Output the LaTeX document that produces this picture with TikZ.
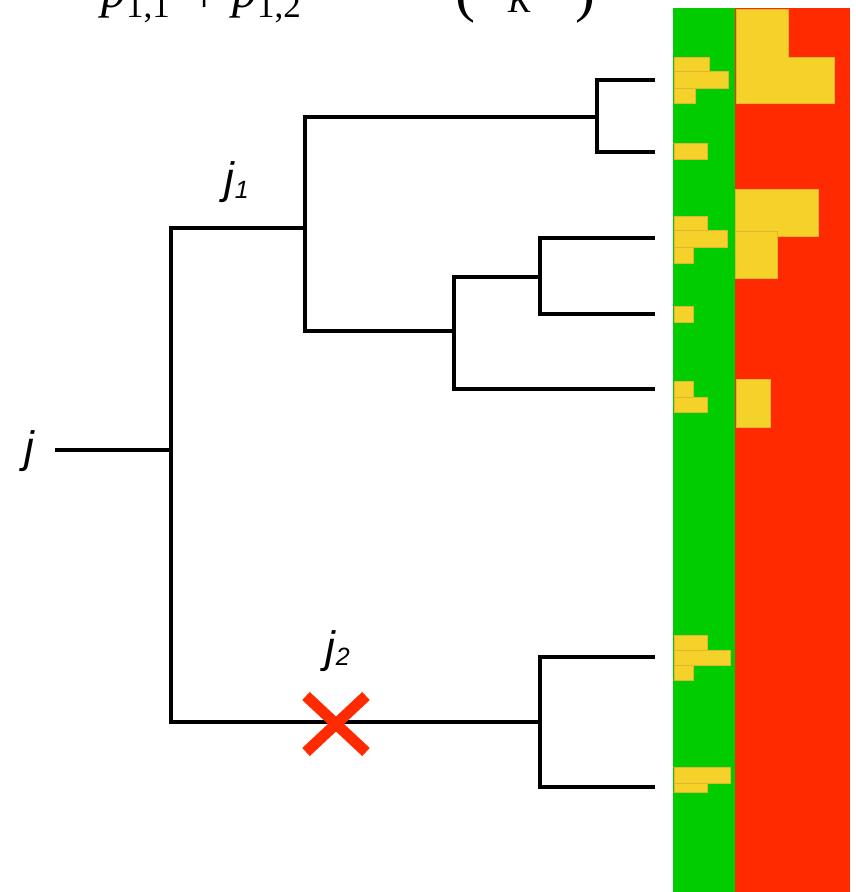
\documentclass[tikz,border=0pt]{standalone}
\usepackage{fontspec}
\newfontfamily\lblfont{Liberation Sans}
\newfontfamily\formfont{Liberation Serif}
\definecolor{barGreen}{HTML}{00CC00}
\definecolor{barRed}{HTML}{FF2A00}
\definecolor{patchYellow}{HTML}{F5D22A}
\definecolor{patchEdge}{HTML}{E2B62C}
\definecolor{crossRed}{HTML}{FF2A00}
\newcommand{\bigsize}{\fontsize{50}{60}\selectfont}
\newcommand{\subsize}{\fontsize{35}{40}\selectfont}
\newcommand{\lowsub}[1]{\raisebox{-10pt}{\upshape\subsize #1}}
\tikzset{
  branch/.style={line width=3.2pt, line join=miter},
  patch/.style={fill=patchYellow, draw=patchEdge, line width=0.6pt},
  lbl/.style={inner sep=0pt, anchor=base west, font=\lblfont\itshape\fontsize{44}{48}\selectfont},
  formula/.style={inner sep=0pt, anchor=base west, font=\formfont},
}
\begin{document}
\begin{tikzpicture}[x=1pt, y=-1pt]
\useasboundingbox (0,0) rectangle (856,892);

% partially visible formula along the top edge
\begin{scope}
\clip (0,0) rectangle (856,892);
\node[formula] (p11) at (101,7) {\bigsize\itshape p\lowsub{1,1}};
\node[formula, anchor=base] (plus) at (205,12) {\bigsize +};
\node[formula] (p12) at (232,7) {\bigsize\itshape p\lowsub{1,2}};
\node[formula] (lpar) at (455,10) {\fontsize{60}{70}\selectfont(};
\node[formula] (kden) at (508,12) {\subsize\itshape K};
\node[formula] (rpar) at (575,10) {\fontsize{60}{70}\selectfont)};
\end{scope}

% colour columns
\fill[barGreen] (673,8) rectangle (735,892);
\fill[barRed] (735,8) rectangle (850,892);

% yellow patches, left column
\draw[patch] (674,57) rectangle (709,71);
\draw[patch] (674,71) rectangle (728,88);
\draw[patch] (674,88) rectangle (695,103);
\draw[patch] (674,143) rectangle (707,159);
\draw[patch] (674,216) rectangle (707,230);
\draw[patch] (674,230) rectangle (727,247);
\draw[patch] (674,247) rectangle (693,263);
\draw[patch] (674,306) rectangle (693,322);
\draw[patch] (674,381) rectangle (693,397);
\draw[patch] (674,397) rectangle (707,412);
\draw[patch] (674,635) rectangle (707,650);
\draw[patch] (674,650) rectangle (730,665);
\draw[patch] (674,665) rectangle (693,680);
\draw[patch] (674,767) rectangle (730,783);
\draw[patch] (674,783) rectangle (707,792);

% yellow patches, right column
\draw[patch] (736,9) -- (788,9) -- (788,57) -- (834,57) -- (834,103) -- (736,103) -- cycle;
\draw[patch] (735,189) rectangle (818,236);
\draw[patch] (735,231) rectangle (777,278);
\draw[patch] (736,379) rectangle (770,427);

% tree: internal joints and leaves
\coordinate (root) at (55,450);
\coordinate (A) at (171,450);
\coordinate (B) at (305,228);
\coordinate (C) at (597,117);
\coordinate (D) at (454,331);
\coordinate (E) at (540,277);
\coordinate (F) at (540,722);
\coordinate (l1) at (655,80);
\coordinate (l2) at (655,152);
\coordinate (l3) at (655,238);
\coordinate (l4) at (655,314);
\coordinate (l5) at (655,389);
\coordinate (l6) at (655,657);
\coordinate (l7) at (655,787);

\draw[branch] (root) -- (A);
\draw[branch] (A) |- (B);
\draw[branch] (A) |- (F);
\draw[branch] (B) |- (C);
\draw[branch] (B) |- (D);
\draw[branch] (C) |- (l1);
\draw[branch] (C) |- (l2);
\draw[branch] (D) |- (E);
\draw[branch] (D) |- (l5);
\draw[branch] (E) |- (l3);
\draw[branch] (E) |- (l4);
\draw[branch] (F) |- (l6);
\draw[branch] (F) |- (l7);

% labels
\node[lbl] (jroot) at (24,462) {j};
\node[lbl] (j1) at (224,193) {j\kern1pt\raisebox{-5pt}{\lblfont\itshape\fontsize{25}{28}\selectfont 1}};
\node[lbl] (j2) at (325,662) {j\kern1pt\raisebox{-3pt}{\lblfont\itshape\fontsize{25}{28}\selectfont 2}};

% removal mark on the lower branch
\coordinate (cut) at (336,724);
\draw[crossRed, line width=11pt] ([shift={(-30,-28)}]cut) -- ([shift={(30,28)}]cut);
\draw[crossRed, line width=11pt] ([shift={(30,-28)}]cut) -- ([shift={(-30,28)}]cut);
\end{tikzpicture}
\end{document}
